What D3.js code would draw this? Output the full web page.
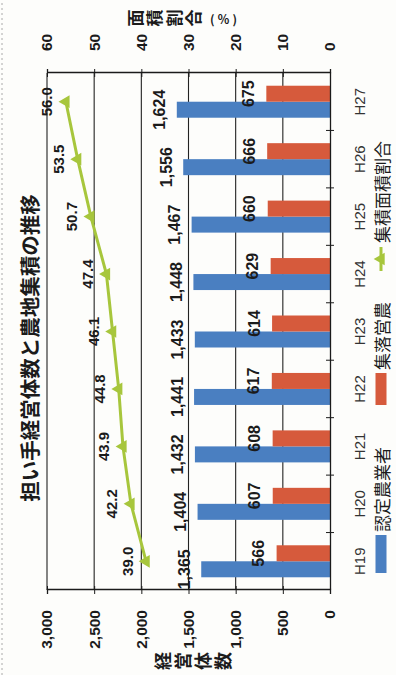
<!DOCTYPE html>
<html lang="ja">
<head>
<meta charset="utf-8">
<script src="https://cdn.jsdelivr.net/npm/d3@7"></script>
<style>
  html, body { margin: 0; padding: 0; background: #fdfdfb; }
  svg { display: block; }
  .num { font-family: "Liberation Sans", Arial, sans-serif; font-weight: bold; fill: #1b1b1b; }
  .jp { font-family: "Noto Sans CJK JP", "Noto Sans", sans-serif; fill: #1b1b1b; }
</style>
</head>
<body>
<svg id="chart" width="396" height="675"></svg>
<script>
// 担い手経営体数と農地集積の推移
const categories = ["H19", "H20", "H21", "H22", "H23", "H24", "H25", "H26", "H27"];
const certifiedFarmers = [1365, 1404, 1432, 1441, 1433, 1448, 1467, 1556, 1624]; // 認定農業者
const communityFarms = [566, 607, 608, 617, 614, 629, 660, 666, 675];            // 集落営農
const areaShare = [39.0, 42.2, 43.9, 44.8, 46.1, 47.4, 50.7, 53.5, 56.0];        // 集積面積割合 (%)
const countTicks = [0, 500, 1000, 1500, 2000, 2500, 3000];
const shareTicks = [0, 10, 20, 30, 40, 50, 60];
const seriesNames = ["認定農業者", "集落営農", "集積面積割合"];

const BLUE = "#4a7fc1", RED = "#d65a3c", GREEN = "#a7c63c", INK = "#1b1b1b";

// The chart is laid out in a 675 x 396 frame and turned a quarter turn counter-clockwise.
const W = 675, H = 396;
const svg = d3.select("#chart");
const g = svg.append("g").attr("transform", `translate(0,${W}) rotate(-90)`);

// faint dotted page edge
g.append("line").attr("x1", 0).attr("x2", W).attr("y1", 2).attr("y2", 2)
  .attr("stroke", "#aaa").attr("stroke-dasharray", "2,3");

const plot = { left: 85, right: 602, top: 47, bottom: 330 };

const x = d3.scaleBand().domain(categories).range([plot.left, plot.right]);
const xSub = d3.scaleBand().domain(["a", "b"]).range([-16, 16]);
const yCount = d3.scaleLinear().domain([0, 3000]).range([plot.bottom, plot.top]);
const yShare = d3.scaleLinear().domain([0, 60]).range([plot.bottom, plot.top]);

// gridlines
g.append("g").selectAll("line").data(countTicks.filter(d => d > 0)).join("line")
  .attr("x1", plot.left).attr("x2", plot.right)
  .attr("y1", d => yCount(d)).attr("y2", d => yCount(d))
  .attr("stroke", "#222").attr("stroke-width", 1.1);

// bars
const bars = g.append("g");
bars.selectAll("rect.a").data(categories).join("rect").attr("class", "a")
  .attr("x", d => x(d) + x.bandwidth() / 2 + xSub("a"))
  .attr("width", xSub.bandwidth())
  .attr("y", (d, i) => yCount(certifiedFarmers[i]))
  .attr("height", (d, i) => yCount(0) - yCount(certifiedFarmers[i]))
  .attr("fill", BLUE);
bars.selectAll("rect.b").data(categories).join("rect").attr("class", "b")
  .attr("x", d => x(d) + x.bandwidth() / 2 + xSub("b"))
  .attr("width", xSub.bandwidth())
  .attr("y", (d, i) => yCount(communityFarms[i]))
  .attr("height", (d, i) => yCount(0) - yCount(communityFarms[i]))
  .attr("fill", RED);

// axes: left (count), right (share), bottom (category)
const leftAxis = g.append("g").attr("transform", `translate(${plot.left},0)`)
  .call(d3.axisLeft(yCount).tickValues(countTicks).tickFormat(d3.format(",")).tickSize(4).tickPadding(16));
const rightAxis = g.append("g").attr("transform", `translate(${plot.right},0)`)
  .call(d3.axisRight(yShare).tickValues(shareTicks).tickFormat(d3.format("d")).tickSize(4).tickPadding(18));
const catAxis = g.append("g").attr("transform", `translate(0,${plot.bottom})`)
  .call(d3.axisBottom(x).tickSize(0).tickPadding(24));

[leftAxis, rightAxis, catAxis].forEach(a => {
  a.select(".domain").attr("stroke", INK).attr("stroke-width", 1.3);
  a.selectAll(".tick line").attr("stroke", INK);
});
leftAxis.selectAll(".tick line").attr("x1", 4);
rightAxis.selectAll(".tick line").attr("x1", -4);
leftAxis.selectAll(".tick text").attr("class", "num").attr("font-size", 15.5).attr("fill", INK);
rightAxis.selectAll(".tick text").attr("class", "num").attr("font-size", 15.5).attr("fill", INK);
catAxis.selectAll(".tick text")
  .attr("font-family", "'Liberation Sans', Arial, sans-serif").attr("font-size", 15).attr("fill", "#333")
  .attr("dy", "0.32em").attr("y", 30);

// category boundary ticks
g.append("g").selectAll("line").data(categories.slice(1)).join("line")
  .attr("x1", d => x(d)).attr("x2", d => x(d))
  .attr("y1", plot.bottom - 4).attr("y2", plot.bottom + 4)
  .attr("stroke", INK);

// bar value labels
const fmtComma = d3.format(",");
g.append("g").selectAll("text").data(categories).join("text").attr("class", "num")
  .attr("x", d => x(d) + x.bandwidth() / 2 + xSub("a") + xSub.bandwidth() / 2)
  .attr("y", (d, i) => yCount(certifiedFarmers[i]) - 17)
  .attr("text-anchor", "middle").attr("dominant-baseline", "central")
  .attr("font-size", 16).text((d, i) => fmtComma(certifiedFarmers[i]));
g.append("g").selectAll("text").data(categories).join("text").attr("class", "num")
  .attr("x", d => x(d) + x.bandwidth() / 2 + xSub("b") + xSub.bandwidth() / 2)
  .attr("y", (d, i) => yCount(communityFarms[i]) - 18)
  .attr("text-anchor", "middle").attr("dominant-baseline", "central")
  .attr("font-size", 16).text((d, i) => fmtComma(communityFarms[i]));

// share line with triangle markers
const line = d3.line().x((d, i) => x(categories[i]) + x.bandwidth() / 2).y(d => yShare(d));
g.append("path").datum(areaShare).attr("d", line)
  .attr("fill", "none").attr("stroke", GREEN).attr("stroke-width", 3);
const tri = d3.symbol().type(d3.symbolTriangle).size(70);
g.append("g").selectAll("path").data(areaShare).join("path")
  .attr("d", tri)
  .attr("transform", (d, i) => `translate(${x(categories[i]) + x.bandwidth() / 2},${yShare(d)})`)
  .attr("fill", GREEN);
g.append("g").selectAll("text").data(areaShare).join("text").attr("class", "num")
  .attr("x", (d, i) => x(categories[i]) + x.bandwidth() / 2)
  .attr("y", d => yShare(d) - 19)
  .attr("text-anchor", "middle").attr("dominant-baseline", "central")
  .attr("font-size", 15).text(d => d3.format(".1f")(d));

// title
g.append("text").attr("class", "jp").attr("x", 327).attr("y", 29)
  .attr("text-anchor", "middle").attr("dominant-baseline", "central")
  .attr("font-size", 20.5).attr("font-weight", "bold")
  .text("担い手経営体数と農地集積の推移");

// left axis title, stacked characters
g.append("g").selectAll("text").data(Array.from("経営体数")).join("text").attr("class", "jp")
  .attr("x", 14).attr("y", (d, i) => 162 + i * 20)
  .attr("text-anchor", "middle").attr("dominant-baseline", "central")
  .attr("font-size", 18).attr("font-weight", "bold").text(d => d);

// right axis title, stacked characters plus unit
g.append("g").selectAll("text").data(Array.from("面積割合")).join("text").attr("class", "jp")
  .attr("x", 657).attr("y", (d, i) => 134 + i * 19.5)
  .attr("text-anchor", "middle").attr("dominant-baseline", "central")
  .attr("font-size", 17).attr("font-weight", "bold").text(d => d);
g.append("text").attr("class", "jp")
  .attr("transform", "translate(657,225) rotate(90)")
  .attr("text-anchor", "middle").attr("dominant-baseline", "central")
  .attr("font-size", 12).attr("font-weight", "bold").attr("letter-spacing", 3).text("(％)");

// legend
const lg = g.append("g").attr("transform", "translate(0,381)");
lg.append("rect").attr("x", 102).attr("y", -5.5).attr("width", 38).attr("height", 11).attr("fill", BLUE);
lg.append("text").attr("class", "jp").attr("x", 143).attr("y", 0).attr("dominant-baseline", "central")
  .attr("font-size", 17).text(seriesNames[0]);
lg.append("rect").attr("x", 270).attr("y", -5.5).attr("width", 32).attr("height", 11).attr("fill", RED);
lg.append("text").attr("class", "jp").attr("x", 305).attr("y", 0).attr("dominant-baseline", "central")
  .attr("font-size", 17).text(seriesNames[1]);
lg.append("line").attr("x1", 404).attr("x2", 428).attr("y1", 0).attr("y2", 0)
  .attr("stroke", GREEN).attr("stroke-width", 3);
lg.append("path").attr("d", tri).attr("transform", "translate(416,0)").attr("fill", GREEN);
lg.append("text").attr("class", "jp").attr("x", 432).attr("y", 0).attr("dominant-baseline", "central")
  .attr("font-size", 17).text(seriesNames[2]);
</script>
</body>
</html>
